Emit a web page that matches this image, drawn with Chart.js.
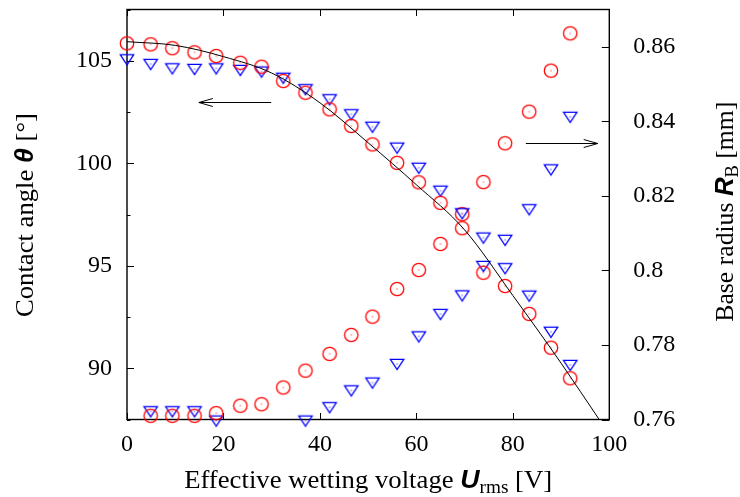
<!DOCTYPE html>
<html>
<head>
<meta charset="utf-8">
<script src="https://cdn.jsdelivr.net/npm/chart.js@4.4.1/dist/chart.umd.min.js"></script>
<style>
  html, body { margin: 0; padding: 0; background: #fff; }
</style>
</head>
<body>
<canvas id="chart_content" width="740" height="497"></canvas>
<script>
// measured points, one per voltage step
const voltage = [0, 4.9, 9.4, 14.0, 18.5, 23.5, 27.9, 32.4, 37.0, 42.0, 46.5,
	50.9, 56.0, 60.5, 65.0, 69.5, 73.9, 78.4, 83.4, 87.9, 91.9];

const angleCircle = [105.85, 105.80, 105.61, 105.41, 105.23, 104.90, 104.71, 104.01, 103.44, 102.63, 101.82,
	100.92, 100.02, 99.07, 98.07, 96.83, 94.66, 94.01, 92.65, 91.00, 89.51];
const angleTriangle = [105.07, 104.84, 104.63, 104.60, 104.63, 104.55, 104.47, 104.17, 103.61, 103.12, 102.39,
	101.78, 100.76, 99.78, 98.66, 97.56, 94.99, 94.88, 93.54, 91.78, 90.16];

const radiusCircle = [null, 0.7610, 0.7610, 0.7610, 0.7617, 0.7637, 0.7641, 0.7686, 0.7731, 0.7776, 0.7827,
	0.7876, 0.7950, 0.8001, 0.8071, 0.8151, 0.8237, 0.8341, 0.8426, 0.8536, 0.8636];
const radiusTriangle = [null, 0.7622, 0.7622, 0.7622, 0.7597, null, null, null, 0.7597, 0.7633, 0.7678,
	0.7699, 0.7749, 0.7823, 0.7883, 0.7933, 0.8088, 0.8082, 0.8164, 0.8271, 0.8412];

// fitted curve
const fitVoltage = [0, 10, 20, 30, 40, 50, 60, 70, 80, 90, 97.9];
const fitAngle = [105.93, 105.75, 105.2, 104.4, 102.95, 101.0, 98.95, 96.75, 93.55, 90.25, 87.5];

// arrows: [from x, to x, y, axis]
const arrows = [
	[29.9, 14.9, 103.0, "y"],
	[82.7, 97.6, 0.8343, "y2"]
];

const serif = "'Liberation Serif', 'Times New Roman', serif";
const symFont = "italic bold 25px 'Liberation Sans', sans-serif";

function toPoints(ys) {
	var pts = [];
	for (var i = 0; i < voltage.length; i++) {
		if (ys[i] !== null) pts.push({ x: voltage[i], y: ys[i] });
	}
	return pts;
}

function makeCircle(color) {
	var c = document.createElement("canvas");
	c.width = 18; c.height = 18;
	var g = c.getContext("2d");
	g.strokeStyle = color; g.lineWidth = 1.3;
	g.beginPath(); g.arc(9, 9, 6.7, 0, Math.PI * 2); g.stroke();
	g.fillStyle = color; g.fillRect(8.5, 8.5, 1, 1);
	return c;
}

function makeTriangle(color) {
	var c = document.createElement("canvas");
	c.width = 18; c.height = 18;
	var g = c.getContext("2d");
	g.strokeStyle = color; g.lineWidth = 1.3;
	g.beginPath();
	g.moveTo(9 - 6.7, 9 - 4.6);
	g.lineTo(9 + 6.7, 9 - 4.6);
	g.lineTo(9, 9 + 5.6);
	g.closePath(); g.stroke();
	g.fillStyle = color; g.fillRect(8.5, 8.5, 1, 1);
	return c;
}

var redCircle = makeCircle("#ff0000");
var blueTriangle = makeTriangle("#0000ff");

// parts: [text, font, dy]; squeezed to the measured width of the reference
function drawParts(ctx, parts, x, y, rotate, width) {
	ctx.save();
	ctx.translate(x, y);
	if (rotate) ctx.rotate(-Math.PI / 2);
	ctx.textAlign = "left";
	ctx.textBaseline = "alphabetic";
	ctx.fillStyle = "#000";
	var total = 0;
	parts.forEach(function(p) { ctx.font = p[1]; total += ctx.measureText(p[0]).width; });
	ctx.scale(width / total, 1);
	var cx = -total / 2;
	parts.forEach(function(p) {
		ctx.font = p[1];
		ctx.fillText(p[0], cx, p[2] || 0);
		cx += ctx.measureText(p[0]).width;
	});
	ctx.restore();
}

function arrowHead(ctx, x, y, dir) {
	var len = 14, half = 4;
	ctx.beginPath();
	ctx.moveTo(x - dir * len, y - half);
	ctx.lineTo(x, y);
	ctx.lineTo(x - dir * len, y + half);
	ctx.stroke();
}

var framePlugin = {
	id: "frame",
	beforeDatasetsDraw: function(chart) {
		var ctx = chart.ctx, a = chart.chartArea;
		var sx = chart.scales.x, sy = chart.scales.y, sy2 = chart.scales.y2;
		ctx.save();
		ctx.strokeStyle = "#000";
		ctx.lineWidth = 1;
		ctx.beginPath();
		sx.ticks.forEach(function(t) {
			var p = Math.round(sx.getPixelForValue(t.value)) + 0.5;
			ctx.moveTo(p, a.bottom); ctx.lineTo(p, a.bottom - 6.5);
			ctx.moveTo(p, a.top); ctx.lineTo(p, a.top + 6.5);
		});
		sy.ticks.forEach(function(t) {
			var p = Math.round(sy.getPixelForValue(t.value)) + 0.5;
			var len = (t.value % 5 === 0) ? 7 : 3.5;
			ctx.moveTo(a.left, p); ctx.lineTo(a.left + len, p);
		});
		sy2.ticks.forEach(function(t) {
			var p = Math.round(sy2.getPixelForValue(t.value)) + 0.5;
			ctx.moveTo(a.right, p); ctx.lineTo(a.right - 7.5, p);
		});
		ctx.stroke();
		ctx.lineWidth = 1.4;
		ctx.strokeRect(a.left, a.top, a.right - a.left, a.bottom - a.top);
		ctx.restore();
	},
	afterDraw: function(chart) {
		var ctx = chart.ctx, a = chart.chartArea;
		var sx = chart.scales.x;
		ctx.save();
		ctx.strokeStyle = "#000";
		ctx.lineWidth = 1;
		arrows.forEach(function(ar) {
			var s = chart.scales[ar[3]];
			var x0 = sx.getPixelForValue(ar[0]), x1 = sx.getPixelForValue(ar[1]);
			var y = Math.round(s.getPixelForValue(ar[2])) + 0.5;
			ctx.beginPath(); ctx.moveTo(x0, y); ctx.lineTo(x1, y); ctx.stroke();
			arrowHead(ctx, x1, y, x1 > x0 ? 1 : -1);
		});
		ctx.restore();

		var main = "25px " + serif, sub = "18px " + serif;
		var cxm = (a.left + a.right) / 2;
		drawParts(ctx, [["Effective wetting voltage ", main], ["U", symFont], ["rms", sub, 5], [" [V]", main]], cxm, 488, false, 368);
		drawParts(ctx, [["Contact angle ", main], ["\u03b8", symFont], [" [\u00b0]", main]], 33.3, 215, true, 204);
		drawParts(ctx, [["Base radius ", main], ["R", symFont], ["B", sub, 5], [" [mm]", main]], 733.3, 211.7, true, 220);
	}
};

var tickFont = { family: serif, size: 24 };

function noPadY(s) { s.paddingTop = 0; s.paddingBottom = 0; }

function drawChart() {
	var config = {
		type: "scatter",
		data: {
			datasets: [{
				label: "fit",
				data: fitVoltage.map(function(u, i) { return { x: u, y: fitAngle[i] }; }),
				showLine: true,
				borderColor: "#000",
				borderWidth: 1,
				pointRadius: 0,
				cubicInterpolationMode: "monotone",
				yAxisID: "y"
			}, {
				label: "angle circles",
				data: toPoints(angleCircle),
				pointStyle: redCircle,
				pointRadius: 7,
				clip: false,
				yAxisID: "y"
			}, {
				label: "angle triangles",
				data: toPoints(angleTriangle),
				pointStyle: blueTriangle,
				pointRadius: 7,
				clip: false,
				yAxisID: "y"
			}, {
				label: "radius circles",
				data: toPoints(radiusCircle),
				pointStyle: redCircle,
				pointRadius: 7,
				clip: false,
				yAxisID: "y2"
			}, {
				label: "radius triangles",
				data: toPoints(radiusTriangle),
				pointStyle: blueTriangle,
				pointRadius: 7,
				clip: false,
				yAxisID: "y2"
			}]
		},
		options: {
			responsive: false,
			animation: false,
			events: [],
			layout: { padding: { top: 9.5, left: 0, right: 0, bottom: 0 } },
			plugins: {
				legend: { display: false },
				tooltip: { enabled: false }
			},
			scales: {
				x: {
					type: "linear",
					position: "bottom",
					min: 0,
					max: 100,
					grid: { display: false, drawTicks: false },
					border: { display: false },
					ticks: { stepSize: 20, padding: 11, maxRotation: 0, color: "#000", font: tickFont },
					afterFit: function(s) { s.height = 77.5; s.paddingLeft = 0; s.paddingRight = 0; }
				},
				y: {
					type: "linear",
					position: "left",
					min: 87.5,
					max: 107.5,
					grid: { display: false, drawTicks: false },
					border: { display: false },
					ticks: {
						stepSize: 2.5, padding: 15, color: "#000", font: tickFont,
						callback: function(v) { return v % 5 === 0 ? String(v) : ""; }
					},
					afterFit: function(s) { s.width = 127; noPadY(s); }
				},
				y2: {
					type: "linear",
					position: "right",
					min: 0.76,
					max: 0.87,
					grid: { display: false, drawTicks: false },
					border: { display: false },
					ticks: {
						stepSize: 0.02, padding: 24, color: "#000", font: tickFont,
						callback: function(v) { return String(parseFloat(v.toFixed(2))); }
					},
					afterBuildTicks: function(s) {
						s.ticks = s.ticks.filter(function(t) {
							var k = (t.value - 0.76) / 0.02;
							return Math.abs(k - Math.round(k)) < 1e-6;
						});
					},
					afterFit: function(s) { s.width = 130.7; noPadY(s); }
				}
			}
		},
		plugins: [framePlugin]
	};
	new Chart(document.getElementById("chart_content"), config);
}

window.onload = function() {
	drawChart();
};
</script>
</body>
</html>
